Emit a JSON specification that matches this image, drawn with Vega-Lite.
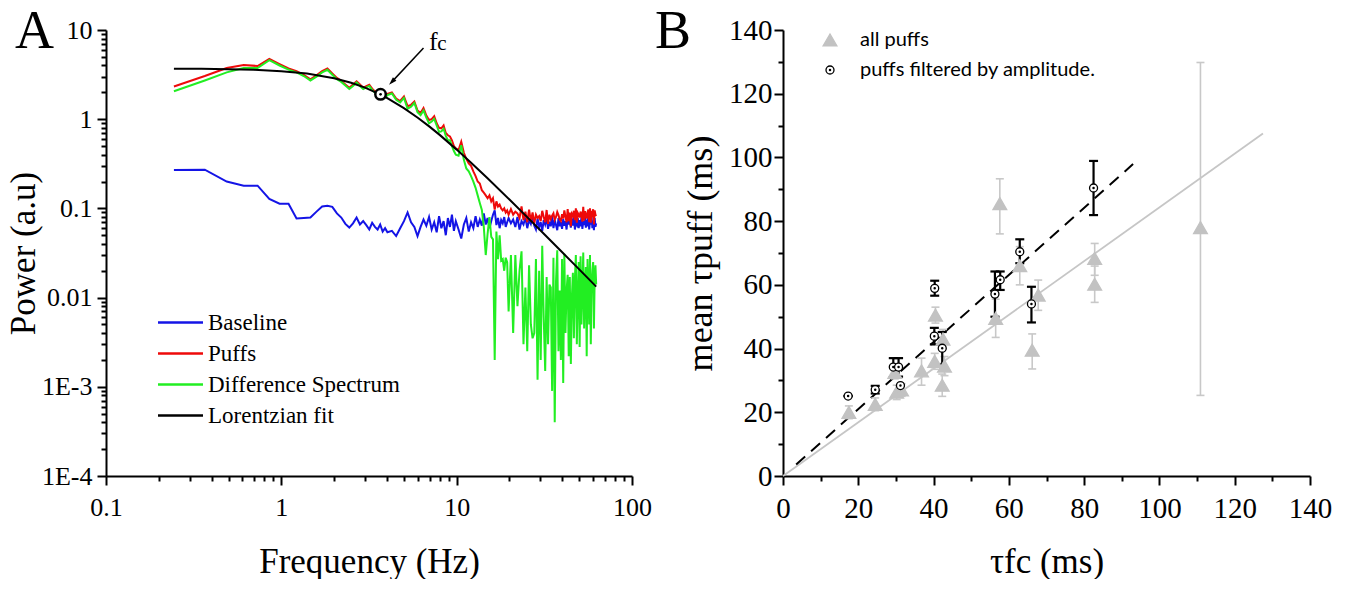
{
"$schema": "https://vega.github.io/schema/vega-lite/v6.json",
"background": "white",
"padding": {"left": 6, "top": 5, "right": 5, "bottom": 0},
"spacing": 3,
"config": {
  "view": {"stroke": null},
  "axis": {"grid": false, "domainColor": "#000", "domainWidth": 2, "tickColor": "#000", "tickWidth": 2, "labelColor": "#000", "titleColor": "#000", "labelFont": "Liberation Serif", "titleFont": "Liberation Serif", "titleFontWeight": "normal", "labelOverlap": false, "labelFlush": false},
  "legend": {"labelColor": "#000", "labelLimit": 600}
},
"resolve": {"scale": {"color": "independent", "shape": "independent", "fill": "independent", "stroke": "independent", "size": "independent"}},
"datasets": {
  "spec": [
    {"f":0.244,"b":0.270,"p":2.33,"d":2.06},
    {"f":0.366,"b":0.272,"p":3.05,"d":2.72},
    {"f":0.488,"b":0.200,"p":3.75,"d":3.35},
    {"f":0.610,"b":0.180,"p":4.05,"d":3.75},
    {"f":0.732,"b":0.180,"p":3.95,"d":3.75},
    {"f":0.854,"b":0.128,"p":4.75,"d":4.60},
    {"f":0.977,"b":0.113,"p":4.15,"d":4.00},
    {"f":1.099,"b":0.113,"p":3.70,"d":3.60},
    {"f":1.221,"b":0.077,"p":3.45,"d":3.35},
    {"f":1.343,"b":0.078,"p":3.15,"d":3.05},
    {"f":1.465,"b":0.079,"p":2.80,"d":2.72},
    {"f":1.587,"b":0.092,"p":3.10,"d":3.00},
    {"f":1.709,"b":0.105,"p":3.45,"d":3.35},
    {"f":1.831,"b":0.107,"p":3.70,"d":3.58},
    {"f":1.953,"b":0.104,"p":3.25,"d":3.15},
    {"f":2.075,"b":0.088,"p":2.90,"d":2.80},
    {"f":2.197,"b":0.079,"p":2.70,"d":2.62},
    {"f":2.319,"b":0.067,"p":2.45,"d":2.38},
    {"f":2.441,"b":0.061,"p":2.25,"d":2.18},
    {"f":2.563,"b":0.068,"p":2.45,"d":2.36},
    {"f":2.686,"b":0.079,"p":2.66,"d":2.58},
    {"f":2.808,"b":0.066,"p":2.45,"d":2.36},
    {"f":2.930,"b":0.072,"p":2.25,"d":2.18},
    {"f":3.052,"b":0.065,"p":2.35,"d":2.28},
    {"f":3.174,"b":0.058,"p":2.44,"d":2.36},
    {"f":3.296,"b":0.069,"p":2.20,"d":2.12},
    {"f":3.418,"b":0.062,"p":2.05,"d":1.98},
    {"f":3.540,"b":0.058,"p":2.08,"d":2.02},
    {"f":3.662,"b":0.066,"p":1.92,"d":1.85},
    {"f":3.784,"b":0.055,"p":1.98,"d":1.92},
    {"f":3.906,"b":0.060,"p":1.82,"d":1.76},
    {"f":4.028,"b":0.054,"p":1.92,"d":1.86},
    {"f":4.272,"b":0.056,"p":2.00,"d":1.94},
    {"f":4.517,"b":0.049,"p":1.70,"d":1.65},
    {"f":4.761,"b":0.060,"p":1.60,"d":1.54},
    {"f":5.005,"b":0.072,"p":1.80,"d":1.73},
    {"f":5.249,"b":0.090,"p":1.40,"d":1.31},
    {"f":5.493,"b":0.070,"p":1.45,"d":1.38},
    {"f":5.737,"b":0.062,"p":1.58,"d":1.52},
    {"f":5.981,"b":0.049,"p":1.25,"d":1.20},
    {"f":6.226,"b":0.062,"p":1.17,"d":1.11},
    {"f":6.470,"b":0.075,"p":1.33,"d":1.25},
    {"f":6.714,"b":0.064,"p":1.10,"d":1.04},
    {"f":6.958,"b":0.080,"p":0.98,"d":0.90},
    {"f":7.202,"b":0.058,"p":1.00,"d":0.94},
    {"f":7.446,"b":0.070,"p":1.08,"d":1.01},
    {"f":7.690,"b":0.054,"p":0.90,"d":0.85},
    {"f":7.935,"b":0.082,"p":0.80,"d":0.72},
    {"f":8.179,"b":0.060,"p":0.79,"d":0.73},
    {"f":8.423,"b":0.072,"p":0.85,"d":0.78},
    {"f":8.667,"b":0.050,"p":0.70,"d":0.65},
    {"f":8.911,"b":0.078,"p":0.66,"d":0.58},
    {"f":9.155,"b":0.062,"p":0.64,"d":0.58},
    {"f":9.399,"b":0.085,"p":0.58,"d":0.50},
    {"f":9.644,"b":0.056,"p":0.50,"d":0.44},
    {"f":9.888,"b":0.072,"p":0.47,"d":0.40},
    {"f":10.25,"b":0.058,"p":0.45,"d":0.39},
    {"f":10.62,"b":0.046,"p":0.56,"d":0.51},
    {"f":10.99,"b":0.066,"p":0.42,"d":0.35},
    {"f":11.35,"b":0.078,"p":0.36,"d":0.28},
    {"f":11.72,"b":0.055,"p":0.32,"d":0.26},
    {"f":12.08,"b":0.070,"p":0.30,"d":0.23},
    {"f":12.45,"b":0.060,"p":0.26,"d":0.20},
    {"f":12.82,"b":0.082,"p":0.23,"d":0.17},
    {"f":13.18,"b":0.062,"p":0.20,"d":0.14},
    {"f":13.55,"b":0.075,"p":0.19,"d":0.115},
    {"f":13.92,"b":0.064,"p":0.16,"d":0.096},
    {"f":14.28,"b":0.088,"p":0.15,"d":0.062},
    {"f":14.65,"b":0.066,"p":0.14,"d":0.030},
    {"f":15.01,"b":0.078,"p":0.13,"d":0.052},
    {"f":15.38,"b":0.060,"p":0.14,"d":0.080},
    {"f":15.75,"b":0.072,"p":0.12,"d":0.048},
    {"f":16.11,"b":0.085,"p":0.13,"d":0.045},
    {"f":16.48,"b":0.095,"p":0.097,"d":0.002},
    {"f":16.85,"b":0.065,"p":0.12,"d":0.055},
    {"f":17.21,"b":0.078,"p":0.105,"d":0.027},
    {"f":17.58,"b":0.060,"p":0.11,"d":0.050},
    {"f":17.94,"b":0.074,"p":0.10,"d":0.026},
    {"f":18.31,"b":0.068,"p":0.095,"d":0.027},
    {"f":18.68,"b":0.080,"p":0.10,"d":0.020},
    {"f":19.04,"b":0.062,"p":0.09,"d":0.028},
    {"f":19.41,"b":0.070,"p":0.095,"d":0.025},
    {"f":19.78,"b":0.078,"p":0.085,"d":0.007},
    {"f":20.39,"b":0.068,"p":0.098,"d":0.030},
    {"f":21.00,"b":0.075,"p":0.085,"d":0.004},
    {"f":21.61,"b":0.062,"p":0.092,"d":0.030},
    {"f":22.22,"b":0.080,"p":0.088,"d":0.008},
    {"f":22.83,"b":0.058,"p":0.078,"d":0.020},
    {"f":23.44,"b":0.072,"p":0.105,"d":0.033},
    {"f":24.05,"b":0.066,"p":0.074,"d":0.003},
    {"f":24.66,"b":0.079,"p":0.092,"d":0.013},
    {"f":25.27,"b":0.060,"p":0.070,"d":0.0025},
    {"f":25.88,"b":0.074,"p":0.097,"d":0.023},
    {"f":26.49,"b":0.067,"p":0.072,"d":0.005},
    {"f":27.10,"b":0.081,"p":0.090,"d":0.0035},
    {"f":27.71,"b":0.064,"p":0.068,"d":0.004},
    {"f":28.32,"b":0.058,"p":0.085,"d":0.027},
    {"f":28.93,"b":0.077,"p":0.078,"d":0.0012},
    {"f":29.54,"b":0.062,"p":0.082,"d":0.020},
    {"f":30.15,"b":0.070,"p":0.072,"d":0.002},
    {"f":30.76,"b":0.056,"p":0.094,"d":0.038},
    {"f":31.37,"b":0.074,"p":0.080,"d":0.006},
    {"f":31.98,"b":0.066,"p":0.070,"d":0.0015},
    {"f":32.59,"b":0.079,"p":0.096,"d":0.017},
    {"f":33.20,"b":0.059,"p":0.067,"d":0.003},
    {"f":33.81,"b":0.071,"p":0.085,"d":0.014},
    {"f":34.42,"b":0.063,"p":0.076,"d":0.013},
    {"f":35.03,"b":0.082,"p":0.083,"d":0.0009},
    {"f":35.64,"b":0.060,"p":0.088,"d":0.028},
    {"f":36.25,"b":0.074,"p":0.0744,"d":0.0004},
    {"f":36.86,"b":0.065,"p":0.080,"d":0.015},
    {"f":37.47,"b":0.057,"p":0.091,"d":0.034},
    {"f":38.08,"b":0.078,"p":0.084,"d":0.0025},
    {"f":38.69,"b":0.063,"p":0.075,"d":0.012},
    {"f":39.30,"b":0.070,"p":0.072,"d":0.002},
    {"f":39.91,"b":0.059,"p":0.086,"d":0.027},
    {"f":40.52,"b":0.076,"p":0.077,"d":0.0011},
    {"f":41.13,"b":0.064,"p":0.095,"d":0.031},
    {"f":41.74,"b":0.072,"p":0.081,"d":0.004},
    {"f":42.35,"b":0.058,"p":0.070,"d":0.012},
    {"f":42.96,"b":0.080,"p":0.098,"d":0.018},
    {"f":43.57,"b":0.066,"p":0.072,"d":0.0022},
    {"f":44.18,"b":0.073,"p":0.090,"d":0.017},
    {"f":44.79,"b":0.061,"p":0.063,"d":0.0018},
    {"f":45.40,"b":0.077,"p":0.087,"d":0.010},
    {"f":46.01,"b":0.064,"p":0.083,"d":0.019},
    {"f":46.62,"b":0.085,"p":0.094,"d":0.0035},
    {"f":47.23,"b":0.058,"p":0.074,"d":0.016},
    {"f":47.84,"b":0.070,"p":0.100,"d":0.030},
    {"f":48.45,"b":0.066,"p":0.069,"d":0.003},
    {"f":49.06,"b":0.078,"p":0.089,"d":0.011},
    {"f":49.67,"b":0.060,"p":0.085,"d":0.025},
    {"f":50.28,"b":0.074,"p":0.079,"d":0.0028},
    {"f":50.89,"b":0.063,"p":0.092,"d":0.029},
    {"f":51.50,"b":0.081,"p":0.086,"d":0.005},
    {"f":52.11,"b":0.059,"p":0.071,"d":0.012},
    {"f":52.72,"b":0.072,"p":0.104,"d":0.032},
    {"f":53.33,"b":0.065,"p":0.073,"d":0.0045},
    {"f":53.94,"b":0.079,"p":0.093,"d":0.014},
    {"f":54.55,"b":0.061,"p":0.083,"d":0.022},
    {"f":55.16,"b":0.075,"p":0.077,"d":0.0022},
    {"f":55.77,"b":0.063,"p":0.090,"d":0.027},
    {"f":56.38,"b":0.084,"p":0.097,"d":0.013},
    {"f":56.99,"b":0.058,"p":0.070,"d":0.005},
    {"f":57.60,"b":0.070,"p":0.100,"d":0.030},
    {"f":58.21,"b":0.066,"p":0.069,"d":0.003},
    {"f":58.82,"b":0.080,"p":0.094,"d":0.014},
    {"f":59.43,"b":0.060,"p":0.080,"d":0.020},
    {"f":60.04,"b":0.073,"p":0.098,"d":0.025},
    {"f":60.65,"b":0.057,"p":0.066,"d":0.0045},
    {"f":61.26,"b":0.078,"p":0.095,"d":0.017},
    {"f":61.87,"b":0.062,"p":0.085,"d":0.023},
    {"f":62.48,"b":0.068,"p":0.082,"d":0.014}
  ],
  "fit": [
    {"f":0.244,"power":3.684,"k":"l"},{"f":0.35,"power":3.668,"k":"l"},{"f":0.5,"power":3.635,"k":"l"},
    {"f":0.7,"power":3.575,"k":"l"},{"f":1,"power":3.454,"k":"l"},{"f":1.4,"power":3.247,"k":"l"},
    {"f":2,"power":2.881,"k":"l"},{"f":2.5,"power":2.562,"k":"l"},{"f":3,"power":2.256,"k":"l"},
    {"f":3.5,"power":1.977,"k":"l"},{"f":4,"power":1.731,"k":"l"},{"f":5,"power":1.332,"k":"l"},
    {"f":6,"power":1.039,"k":"l"},{"f":7,"power":0.825,"k":"l"},{"f":8,"power":0.667,"k":"l"},
    {"f":10,"power":0.456,"k":"l"},{"f":12,"power":0.329,"k":"l"},{"f":15,"power":0.2176,"k":"l"},
    {"f":20,"power":0.1257,"k":"l"},{"f":25,"power":0.0814,"k":"l"},{"f":30,"power":0.0569,"k":"l"},
    {"f":40,"power":0.0322,"k":"l"},{"f":50,"power":0.0207,"k":"l"},{"f":62.5,"power":0.01327,"k":"l"}
  ],
  "fcpt": [{"f":3.68,"power":1.9}],
  "arrow": [{"f":6.47,"power":6.27,"f2":4.27,"p2":2.62}],
  "fclab": [{"f":7.37,"power":6.0,"t":"f"}],
  "fcsub": [{"f":8.25,"power":6.0,"t":"c"}],
  "panelA": [{"f":0.0303,"power":6.28,"t":"A"}],
  "panelB": [{"tf":-34,"tp":134.3,"t":"B"}],
  "bpts": [
    {"grp":"all puffs","tf":17.5,"tp":20,"lo":18,"hi":22},
    {"grp":"all puffs","tf":24.5,"tp":22.5,"lo":20.5,"hi":24.5},
    {"grp":"all puffs","tf":30.2,"tp":26.3,"lo":24,"hi":28.5},
    {"grp":"all puffs","tf":31.5,"tp":27,"lo":25,"hi":29},
    {"grp":"all puffs","tf":29.7,"tp":32.5,"lo":30.5,"hi":34.5},
    {"grp":"all puffs","tf":36.8,"tp":33,"lo":28.5,"hi":37},
    {"grp":"all puffs","tf":40.3,"tp":36,"lo":33.5,"hi":38.5},
    {"grp":"all puffs","tf":40.5,"tp":50.5,"lo":48,"hi":53},
    {"grp":"all puffs","tf":42.5,"tp":43,"lo":40,"hi":46},
    {"grp":"all puffs","tf":42.3,"tp":28.5,"lo":25,"hi":32},
    {"grp":"all puffs","tf":42.9,"tp":34.5,"lo":31.5,"hi":37.5},
    {"grp":"all puffs","tf":56.5,"tp":49.5,"lo":43.5,"hi":55.5},
    {"grp":"all puffs","tf":57.6,"tp":85.5,"lo":76,"hi":93.3},
    {"grp":"all puffs","tf":62.9,"tp":66,"lo":60,"hi":72},
    {"grp":"all puffs","tf":67.8,"tp":56.8,"lo":52,"hi":61.5},
    {"grp":"all puffs","tf":66.2,"tp":39.5,"lo":33.6,"hi":44.6},
    {"grp":"all puffs","tf":82.8,"tp":68.3,"lo":63,"hi":73},
    {"grp":"all puffs","tf":82.8,"tp":60.2,"lo":54.5,"hi":65.9},
    {"grp":"all puffs","tf":110.9,"tp":78,"lo":25.3,"hi":129.8},
    {"grp":"puffs filtered by amplitude.","tf":17.3,"tp":25.1,"lo":25.1,"hi":25.1},
    {"grp":"puffs filtered by amplitude.","tf":24.5,"tp":27.1,"lo":25.9,"hi":28.3},
    {"grp":"puffs filtered by amplitude.","tf":29.3,"tp":34.2,"lo":31,"hi":37},
    {"grp":"puffs filtered by amplitude.","tf":30.7,"tp":34.2,"lo":31.2,"hi":37},
    {"grp":"puffs filtered by amplitude.","tf":31.2,"tp":28.4,"lo":28.4,"hi":28.4},
    {"grp":"puffs filtered by amplitude.","tf":40.3,"tp":58.9,"lo":56.6,"hi":61.3},
    {"grp":"puffs filtered by amplitude.","tf":40.2,"tp":43.9,"lo":41.3,"hi":46.5},
    {"grp":"puffs filtered by amplitude.","tf":42.3,"tp":40.1,"lo":35,"hi":45.2},
    {"grp":"puffs filtered by amplitude.","tf":56.3,"tp":57.1,"lo":50,"hi":64.2},
    {"grp":"puffs filtered by amplitude.","tf":57.7,"tp":61.6,"lo":58.4,"hi":64.2},
    {"grp":"puffs filtered by amplitude.","tf":62.9,"tp":70.4,"lo":66.8,"hi":74.3},
    {"grp":"puffs filtered by amplitude.","tf":66,"tp":54,"lo":48.2,"hi":59.4},
    {"grp":"puffs filtered by amplitude.","tf":82.5,"tp":90.4,"lo":81.9,"hi":98.9}
  ],
  "bfit": [
    {"g":"a","tf":0,"tp":0},{"g":"a","tf":127.5,"tp":107.5},
    {"g":"f","tf":3.5,"tp":3.6},{"g":"f","tf":93,"tp":97.9}
  ]
},
"hconcat": [
  {
    "width": 526, "height": 446,
    "encoding": {
      "x": {"field": "f", "type": "quantitative", "scale": {"type": "log", "domain": [0.1, 100], "nice": false},
        "axis": {"title": "Frequency (Hz)", "values": [0.1,0.2,0.3,0.4,0.5,0.6,0.7,0.8,0.9,1,2,3,4,5,6,7,8,9,10,20,30,40,50,60,70,80,90,100],
          "labelExpr": "datum.value == 0.1 ? '0.1' : datum.value == 1 ? '1' : datum.value == 10 ? '10' : datum.value == 100 ? '100' : ''",
          "tickSize": {"condition": {"test": "indexof([0.1,1,10,100], datum.value) >= 0", "value": 9}, "value": 5},
          "labelFontSize": 26, "titleFontSize": 35, "labelPadding": 9, "titlePadding": 24}},
      "y": {"field": "power", "type": "quantitative", "scale": {"type": "log", "domain": [0.0001, 10], "nice": false},
        "axis": {"title": "Power (a.u)", "values": [0.0001,0.0002,0.0003,0.0004,0.0005,0.0006,0.0007,0.0008,0.0009,0.001,0.002,0.003,0.004,0.005,0.006,0.007,0.008,0.009,0.01,0.02,0.03,0.04,0.05,0.06,0.07,0.08,0.09,0.1,0.2,0.3,0.4,0.5,0.6,0.7,0.8,0.9,1,2,3,4,5,6,7,8,9,10],
          "labelExpr": "datum.value == 10 ? '10' : datum.value == 1 ? '1' : datum.value == 0.1 ? '0.1' : datum.value == 0.01 ? '0.01' : datum.value == 0.001 ? '1E-3' : datum.value == 0.0001 ? '1E-4' : ''",
          "tickSize": {"condition": {"test": "indexof([0.0001,0.001,0.01,0.1,1,10], datum.value) >= 0", "value": 9}, "value": 5},
          "labelFontSize": 26, "titleFontSize": 35, "labelPadding": 5, "titlePadding": 0}}
    },
    "layer": [
      {"data": {"name": "spec"}, "transform": [{"fold": ["b"], "as": ["k", "power"]}],
       "mark": {"type": "line", "strokeWidth": 2},
       "encoding": {"color": {"field": "k", "type": "nominal", "scale": {"domain": ["b","p","d","l"], "range": ["#1414e6","#ee0a0a","#22ee22","#000000"]},
         "legend": {"title": null, "orient": "none", "legendX": 58, "legendY": 276, "symbolType": "M-1.5,0H1.5", "symbolSize": 900, "symbolStrokeWidth": 2.5, "labelFont": "Liberation Serif", "labelFontSize": 23, "labelOffset": 11, "rowPadding": 2, "padding": 0,
           "labelExpr": "datum.value == 'b' ? 'Baseline' : datum.value == 'p' ? 'Puffs' : datum.value == 'd' ? 'Difference Spectrum' : 'Lorentzian fit'"}}}},
      {"data": {"name": "spec"}, "transform": [{"fold": ["p"], "as": ["k", "power"]}],
       "mark": {"type": "line", "strokeWidth": 2},
       "encoding": {"color": {"field": "k", "type": "nominal"}}},
      {"data": {"name": "spec"}, "transform": [{"fold": ["d"], "as": ["k", "power"]}],
       "mark": {"type": "line", "strokeWidth": 2},
       "encoding": {"color": {"field": "k", "type": "nominal"}}},
      {"data": {"name": "fit"},
       "mark": {"type": "line", "strokeWidth": 2},
       "encoding": {"color": {"field": "k", "type": "nominal"}}},
      {"data": {"name": "fcpt"}, "mark": {"type": "point", "shape": "circle", "size": 110, "stroke": "#000", "strokeWidth": 2.5, "fill": "#fff", "opacity": 1}},
      {"data": {"name": "fcpt"}, "mark": {"type": "point", "shape": "circle", "size": 7, "filled": true, "color": "#000", "opacity": 1}},
      {"data": {"name": "arrow"}, "mark": {"type": "rule", "color": "#000", "strokeWidth": 1.5},
       "encoding": {"x2": {"field": "f2"}, "y2": {"field": "p2"}}},
      {"data": {"name": "arrow"}, "mark": {"type": "point", "shape": "M0,-1L-0.6,1L0.6,1Z", "size": 64, "angle": 224, "filled": true, "color": "#000", "opacity": 1},
       "encoding": {"x": {"field": "f2", "type": "quantitative"}, "y": {"field": "p2", "type": "quantitative"}}},
      {"data": {"name": "fclab"}, "mark": {"type": "text", "font": "Liberation Serif", "fontSize": 26, "color": "#000", "baseline": "alphabetic", "align": "center"},
       "encoding": {"text": {"field": "t"}}},
      {"data": {"name": "fcsub"}, "mark": {"type": "text", "font": "Liberation Serif", "fontSize": 21, "color": "#000", "baseline": "alphabetic", "align": "center"},
       "encoding": {"text": {"field": "t"}}},
      {"data": {"name": "panelA"}, "mark": {"type": "text", "font": "Liberation Serif", "fontSize": 54, "color": "#000", "baseline": "alphabetic", "align": "left", "clip": false},
       "encoding": {"text": {"field": "t"}}}
    ]
  },
  {
    "width": 527, "height": 446,
    "encoding": {
      "x": {"field": "tf", "type": "quantitative", "scale": {"domain": [0, 140], "nice": false},
        "axis": {"title": "τfc (ms)", "values": [0,10,20,30,40,50,60,70,80,90,100,110,120,130,140],
          "labelExpr": "datum.value % 20 == 0 ? datum.label : ''",
          "tickSize": {"condition": {"test": "datum.value % 20 == 0", "value": 9}, "value": 5},
          "labelFontSize": 29, "titleFontSize": 35, "labelPadding": 9, "titlePadding": 21}},
      "y": {"field": "tp", "type": "quantitative", "scale": {"domain": [0, 140], "nice": false},
        "axis": {"title": "mean τpuff (ms)", "values": [0,10,20,30,40,50,60,70,80,90,100,110,120,130,140],
          "labelExpr": "datum.value % 20 == 0 ? datum.label : ''",
          "tickSize": {"condition": {"test": "datum.value % 20 == 0", "value": 9}, "value": 5},
          "labelFontSize": 29, "titleFontSize": 36, "labelPadding": 2, "titlePadding": 9}}
    },
    "layer": [
      {"data": {"name": "bfit"}, "transform": [{"filter": "datum.g == 'a'"}],
       "mark": {"type": "line", "color": "#c6c6c6", "strokeWidth": 1.8}},
      {"data": {"name": "bfit"}, "transform": [{"filter": "datum.g == 'f'"}],
       "mark": {"type": "line", "color": "#000", "strokeWidth": 2, "strokeDash": [12, 8]}},
      {"data": {"name": "bpts"}, "transform": [{"filter": "datum.grp == 'all puffs'"}],
       "mark": {"type": "rule", "color": "#c8c8c8", "strokeWidth": 1.6},
       "encoding": {"y": {"field": "lo", "type": "quantitative"}, "y2": {"field": "hi"}}},
      {"data": {"name": "bpts"}, "transform": [{"filter": "datum.grp == 'all puffs'"}],
       "mark": {"type": "tick", "orient": "horizontal", "size": 8, "thickness": 1.6, "color": "#c8c8c8", "opacity": 1},
       "encoding": {"y": {"field": "lo", "type": "quantitative"}}},
      {"data": {"name": "bpts"}, "transform": [{"filter": "datum.grp == 'all puffs'"}],
       "mark": {"type": "tick", "orient": "horizontal", "size": 8, "thickness": 1.6, "color": "#c8c8c8", "opacity": 1},
       "encoding": {"y": {"field": "hi", "type": "quantitative"}}},
      {"data": {"name": "bpts"}, "transform": [{"filter": "datum.grp != 'all puffs'"}],
       "mark": {"type": "rule", "color": "#000", "strokeWidth": 2.2},
       "encoding": {"y": {"field": "lo", "type": "quantitative"}, "y2": {"field": "hi"}}},
      {"data": {"name": "bpts"}, "transform": [{"filter": "datum.grp != 'all puffs'"}],
       "mark": {"type": "tick", "orient": "horizontal", "size": 9, "thickness": 2.2, "color": "#000", "opacity": 1},
       "encoding": {"y": {"field": "lo", "type": "quantitative"}}},
      {"data": {"name": "bpts"}, "transform": [{"filter": "datum.grp != 'all puffs'"}],
       "mark": {"type": "tick", "orient": "horizontal", "size": 9, "thickness": 2.2, "color": "#000", "opacity": 1},
       "encoding": {"y": {"field": "hi", "type": "quantitative"}}},
      {"data": {"name": "bpts"},
       "mark": {"type": "point", "strokeWidth": 1.3, "opacity": 1},
       "encoding": {
         "shape": {"field": "grp", "type": "nominal", "scale": {"domain": ["all puffs", "puffs filtered by amplitude."], "range": ["triangle-up", "M-1,0A1,1,0,1,1,1,0A1,1,0,1,1,-1,0M-0.15,0A0.15,0.15,0,1,1,0.15,0A0.15,0.15,0,1,1,-0.15,0"]},
           "legend": {"title": null, "orient": "none", "legendX": 37, "legendY": 0, "labelFont": "Lato", "labelFontSize": 20, "labelOffset": 20, "rowPadding": 10, "symbolStrokeWidth": 1.3, "padding": 0}},
         "fill": {"field": "grp", "type": "nominal", "scale": {"domain": ["all puffs", "puffs filtered by amplitude."], "range": ["#c2c2c2", "#ffffff"]},
           "legend": {"title": null, "orient": "none", "legendX": 37, "legendY": 0, "labelFont": "Lato", "labelFontSize": 20, "labelOffset": 20, "rowPadding": 10, "symbolStrokeWidth": 1.3, "padding": 0}},
         "stroke": {"field": "grp", "type": "nominal", "scale": {"domain": ["all puffs", "puffs filtered by amplitude."], "range": ["#c2c2c2", "#000000"]},
           "legend": {"title": null, "orient": "none", "legendX": 37, "legendY": 0, "labelFont": "Lato", "labelFontSize": 20, "labelOffset": 20, "rowPadding": 10, "symbolStrokeWidth": 1.3, "padding": 0}},
         "size": {"field": "grp", "type": "ordinal", "scale": {"domain": ["all puffs", "puffs filtered by amplitude."], "range": [190, 64]},
           "legend": {"title": null, "orient": "none", "legendX": 37, "legendY": 0, "labelFont": "Lato", "labelFontSize": 20, "labelOffset": 20, "rowPadding": 10, "symbolStrokeWidth": 1.3, "padding": 0}}
       }},
      {"data": {"name": "panelB"}, "mark": {"type": "text", "font": "Liberation Serif", "fontSize": 54, "color": "#000", "baseline": "alphabetic", "align": "left", "clip": false},
       "encoding": {"text": {"field": "t"}}}
    ]
  }
]
}
